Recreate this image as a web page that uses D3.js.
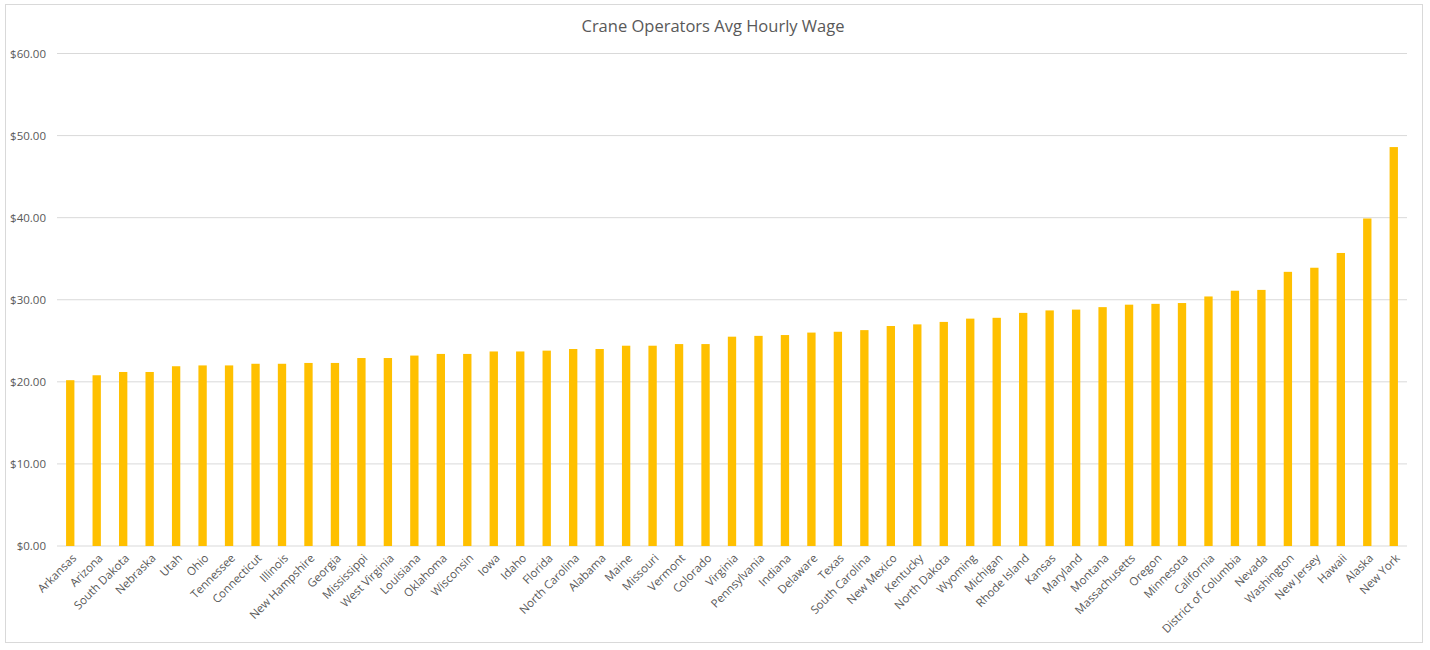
<!DOCTYPE html>
<html><head><meta charset="utf-8">
<script src="https://cdn.jsdelivr.net/npm/d3@7"></script>
<style>body{margin:0;background:#fff;}svg{display:block;}text{font-family:"Open Sans","Liberation Sans",sans-serif;}</style>
</head><body><svg id="c" width="1430" height="650"></svg>
<script>
const title = "Crane Operators Avg Hourly Wage";
const states = ["Arkansas","Arizona","South Dakota","Nebraska","Utah","Ohio","Tennessee","Connecticut","Illinois","New Hampshire","Georgia","Mississippi","West Virginia","Louisiana","Oklahoma","Wisconsin","Iowa","Idaho","Florida","North Carolina","Alabama","Maine","Missouri","Vermont","Colorado","Virginia","Pennsylvania","Indiana","Delaware","Texas","South Carolina","New Mexico","Kentucky","North Dakota","Wyoming","Michigan","Rhode Island","Kansas","Maryland","Montana","Massachusetts","Oregon","Minnesota","California","District of Columbia","Nevada","Washington","New Jersey","Hawaii","Alaska","New York"];
const wages = [20.2,20.8,21.2,21.2,21.9,22.0,22.0,22.2,22.2,22.3,22.3,22.9,22.9,23.2,23.4,23.4,23.7,23.7,23.8,24.0,24.0,24.4,24.4,24.6,24.6,25.5,25.6,25.7,26.0,26.1,26.3,26.8,27.0,27.3,27.7,27.8,28.4,28.7,28.8,29.1,29.4,29.5,29.6,30.4,31.1,31.2,33.4,33.9,35.7,39.9,48.6];
const yTicks = [0,10,20,30,40,50,60];

const svg = d3.select("#c");
svg.append("rect").attr("x",5.5).attr("y",4.5).attr("width",1417).attr("height",638)
  .attr("fill","#fff").attr("stroke","#d9d9d9");

const pLeft = 57, pRight = 1407, pTop = 53.5, pBottom = 546;
const x = d3.scaleBand().domain(states).range([pLeft,pRight]).paddingInner(0.685).paddingOuter(0.3425);
const y = d3.scaleLinear().domain([0,60]).range([pBottom,pTop]);

svg.append("g").selectAll("line").data(yTicks).join("line")
  .attr("x1",pLeft).attr("x2",pRight).attr("y1",d=>y(d)).attr("y2",d=>y(d))
  .attr("stroke","#d9d9d9").attr("stroke-width",1);

svg.append("g").selectAll("text").data(yTicks).join("text")
  .attr("x",46).attr("y",d=>y(d)).attr("dy","0.35em").attr("text-anchor","end")
  .attr("font-size",11.5).attr("fill","#595959").text(d=>d3.format("$.2f")(d));

svg.append("g").selectAll("rect").data(states).join("rect")
  .attr("x",d=>x(d)).attr("width",x.bandwidth())
  .attr("y",(d,i)=>y(wages[i])).attr("height",(d,i)=>y(0)-y(wages[i]))
  .attr("fill","#ffc000");

svg.append("g").selectAll("text").data(states).join("text")
  .attr("transform",d=>`translate(${x(d)+x.bandwidth()/2+4},${pBottom+10}) rotate(-45)`)
  .attr("text-anchor","end").attr("dy","0.35em")
  .attr("font-size",11.5).attr("fill","#595959").text(d=>d);

svg.append("text").attr("x",713).attr("y",32).attr("text-anchor","middle")
  .attr("font-size",16.5).attr("fill","#595959").text(title);
</script></body></html>
